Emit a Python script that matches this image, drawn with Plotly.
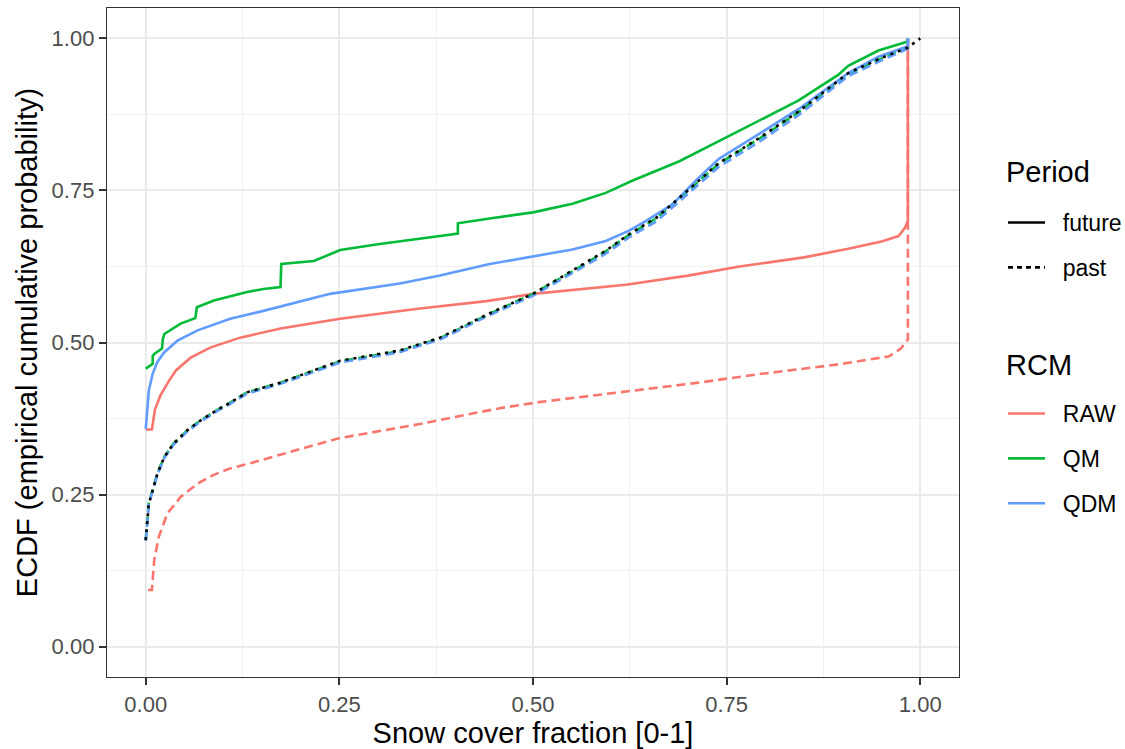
import plotly.graph_objects as go

# ---------------- data ----------------
raw_future_x = [0.0, 0.008, 0.012, 0.019, 0.030, 0.039, 0.058, 0.084, 0.122, 0.174, 0.251, 0.354,
                0.440, 0.500, 0.620, 0.700, 0.767, 0.850, 0.907, 0.950, 0.972, 0.980, 0.984, 0.984]
raw_future_y = [0.357, 0.357, 0.390, 0.413, 0.437, 0.454, 0.475, 0.492, 0.508, 0.523, 0.539, 0.556,
                0.568, 0.580, 0.595, 0.610, 0.625, 0.640, 0.654, 0.666, 0.675, 0.688, 0.700, 1.0]

raw_past_x = [0.003, 0.008, 0.011, 0.017, 0.028, 0.045, 0.067, 0.087, 0.109, 0.131, 0.200, 0.251,
              0.354, 0.457, 0.508, 0.611, 0.714, 0.792, 0.894, 0.959, 0.975, 0.984, 0.984]
raw_past_y = [0.093, 0.093, 0.143, 0.181, 0.219, 0.246, 0.268, 0.282, 0.293, 0.300, 0.325, 0.343,
              0.366, 0.392, 0.402, 0.418, 0.434, 0.448, 0.464, 0.477, 0.490, 0.505, 1.0]

qm_future_x = [0.0, 0.009, 0.009, 0.011, 0.021, 0.022, 0.024, 0.045, 0.064, 0.066, 0.088, 0.109,
               0.131, 0.152, 0.174, 0.175, 0.195, 0.217, 0.238, 0.251, 0.302, 0.354, 0.380,
               0.403, 0.403, 0.444, 0.500, 0.551, 0.594, 0.628, 0.689, 0.740, 0.792, 0.843,
               0.894, 0.907, 0.946, 0.984, 0.984]
qm_future_y = [0.457, 0.465, 0.478, 0.481, 0.490, 0.505, 0.514, 0.531, 0.540, 0.558, 0.569, 0.576,
               0.583, 0.588, 0.591, 0.629, 0.631, 0.634, 0.645, 0.652, 0.662, 0.670, 0.675,
               0.679, 0.696, 0.704, 0.714, 0.728, 0.746, 0.766, 0.798, 0.831, 0.865, 0.898,
               0.940, 0.955, 0.980, 0.995, 1.0]

qdm_future_x = [0.0, 0.002, 0.004, 0.009, 0.015, 0.024, 0.041, 0.067, 0.109, 0.152, 0.195, 0.238,
                0.328, 0.380, 0.444, 0.500, 0.551, 0.594, 0.624, 0.646, 0.680, 0.710, 0.740,
                0.792, 0.843, 0.907, 0.946, 0.984, 0.984]
qdm_future_y = [0.358, 0.389, 0.421, 0.449, 0.468, 0.484, 0.503, 0.520, 0.539, 0.552, 0.566, 0.580,
                0.597, 0.610, 0.629, 0.641, 0.653, 0.667, 0.684, 0.700, 0.727, 0.766, 0.802,
                0.843, 0.884, 0.943, 0.970, 0.987, 1.0]

obs_past_x = [0.0, 0.001, 0.002, 0.004, 0.009, 0.015, 0.024, 0.036, 0.054, 0.071, 0.092, 0.109,
              0.131, 0.174, 0.251, 0.328, 0.380, 0.444, 0.500, 0.551, 0.594, 0.624, 0.659,
              0.689, 0.714, 0.740, 0.792, 0.843, 0.907, 0.950, 0.984, 0.997, 1.0]
obs_past_y = [0.175, 0.192, 0.214, 0.235, 0.257, 0.284, 0.312, 0.334, 0.356, 0.372, 0.389, 0.401,
              0.418, 0.434, 0.470, 0.487, 0.508, 0.548, 0.580, 0.618, 0.651, 0.678, 0.705,
              0.738, 0.766, 0.795, 0.836, 0.880, 0.943, 0.968, 0.985, 0.996, 1.0]

qm_past_x = [0.0, 0.001, 0.002, 0.004, 0.009, 0.015, 0.024, 0.036, 0.054, 0.071, 0.092, 0.109,
             0.131, 0.174, 0.251, 0.328, 0.380, 0.444, 0.500, 0.551, 0.594, 0.624, 0.659,
             0.689, 0.714, 0.740, 0.792, 0.843, 0.907, 0.950, 0.984, 0.984]
qm_past_y = [0.176, 0.193, 0.215, 0.236, 0.258, 0.285, 0.312, 0.334, 0.356, 0.372, 0.389, 0.401,
             0.418, 0.434, 0.469, 0.486, 0.507, 0.547, 0.580, 0.617, 0.650, 0.677, 0.704,
             0.737, 0.765, 0.794, 0.835, 0.879, 0.942, 0.967, 0.985, 1.0]

qdm_past_x = [0.0, 0.001, 0.002, 0.004, 0.009, 0.015, 0.024, 0.036, 0.054, 0.071, 0.092, 0.109,
              0.131, 0.174, 0.251, 0.328, 0.380, 0.444, 0.500, 0.551, 0.594, 0.624, 0.659,
              0.689, 0.714, 0.740, 0.792, 0.843, 0.907, 0.950, 0.984, 0.984]
qdm_past_y = [0.174, 0.191, 0.213, 0.234, 0.256, 0.282, 0.310, 0.332, 0.354, 0.370, 0.387, 0.399,
              0.416, 0.432, 0.467, 0.484, 0.505, 0.545, 0.577, 0.614, 0.646, 0.673, 0.699,
              0.732, 0.760, 0.789, 0.830, 0.874, 0.938, 0.964, 0.983, 1.0]

period_labels = ["future", "past"]
rcm_labels = ["RAW", "QM", "QDM"]
rcm_colors = ["#F8766D", "#00BA38", "#619CFF"]

x_ticks = [0.0, 0.25, 0.5, 0.75, 1.0]
y_ticks = [0.0, 0.25, 0.5, 0.75, 1.0]
tick_text = ["0.00", "0.25", "0.50", "0.75", "1.00"]

# ---------------- figure ----------------
FONT = "Liberation Sans, Arial, sans-serif"
LW = 2.6
DASH = "9px,5px"
TITLE_SIZE = 29
PAD = "\u00a0\u00a0"  # gap between legend key and label

fig = go.Figure()

series = [
    (raw_past_x, raw_past_y, rcm_colors[0], DASH),
    (raw_future_x, raw_future_y, rcm_colors[0], "solid"),
    (qm_past_x, qm_past_y, rcm_colors[1], DASH),
    (qm_future_x, qm_future_y, rcm_colors[1], "solid"),
    (qdm_past_x, qdm_past_y, rcm_colors[2], DASH),
    (qdm_future_x, qdm_future_y, rcm_colors[2], "solid"),
    (obs_past_x, obs_past_y, "#000000", "3px,5px"),
]
for xs, ys, col, dash in series:
    fig.add_trace(go.Scatter(x=xs, y=ys, mode="lines", line=dict(color=col, width=LW, dash=dash),
                             showlegend=False, hoverinfo="skip"))

# legend 1: Period
for i, (lab, dash) in enumerate(zip(period_labels, ["solid", "5px,4px"])):
    fig.add_trace(go.Scatter(x=[None], y=[None], mode="lines", name=PAD + lab,
                             line=dict(color="#000000", width=2.6, dash=dash),
                             legend="legend", legendgroup="p" + str(i)))
# legend 2: RCM
for i, (lab, col) in enumerate(zip(rcm_labels, rcm_colors)):
    fig.add_trace(go.Scatter(x=[None], y=[None], mode="lines", name=PAD + lab,
                             line=dict(color=col, width=2.6),
                             legend="legend2", legendgroup="r" + str(i)))

axis_common = dict(
    showgrid=True, gridcolor="#EBEBEB", gridwidth=1.6,
    zeroline=False, showline=True, linecolor="#333333", linewidth=1.3, mirror=True,
    ticks="outside", ticklen=7, tickwidth=2, tickcolor="#333333",
    tickfont=dict(family=FONT, size=22, color="#4D4D4D"),
    tickmode="array", tickvals=x_ticks, ticktext=tick_text,
    minor=dict(tickmode="array", tickvals=[0.125, 0.375, 0.625, 0.875], showgrid=True,
               gridcolor="#F1F1F1", gridwidth=1, ticks=""),
    automargin=False,
)

legend_common = dict(xanchor="left", yanchor="top", traceorder="grouped", itemwidth=37,
                     tracegroupgap=12, bgcolor="rgba(0,0,0,0)",
                     font=dict(family=FONT, size=23, color="#000000"))

fig.update_layout(
    template="none",
    width=1125, height=749,
    margin=dict(l=107, r=166, t=8, b=72, autoexpand=False),
    paper_bgcolor="white", plot_bgcolor="white",
    font=dict(family=FONT, color="#000000"),
    xaxis=dict(axis_common, range=[-0.05, 1.05],
               title=dict(text="Snow cover fraction [0-1]", font=dict(family=FONT, size=TITLE_SIZE, color="#000000"), standoff=5)),
    yaxis=dict(axis_common, range=[-0.05, 1.05], tickvals=y_ticks,
               title=dict(text="ECDF (empirical cumulative probability)", font=dict(family=FONT, size=TITLE_SIZE, color="#000000"), standoff=5)),
    legend=dict(legend_common, x=(1003 - 107) / 852, y=0.7115),
    legend2=dict(legend_common, x=(1003 - 107) / 852, y=0.426),
)

for txt, ypx in [("Period", 172), ("RCM", 365)]:
    fig.add_annotation(text=txt, xref="paper", yref="paper", x=(1004 - 107) / 852,
                       y=(677 - ypx) / 669, xanchor="left", yanchor="middle", showarrow=False,
                       font=dict(family=FONT, size=TITLE_SIZE, color="#000000"))

fig.write_html("out.html")
